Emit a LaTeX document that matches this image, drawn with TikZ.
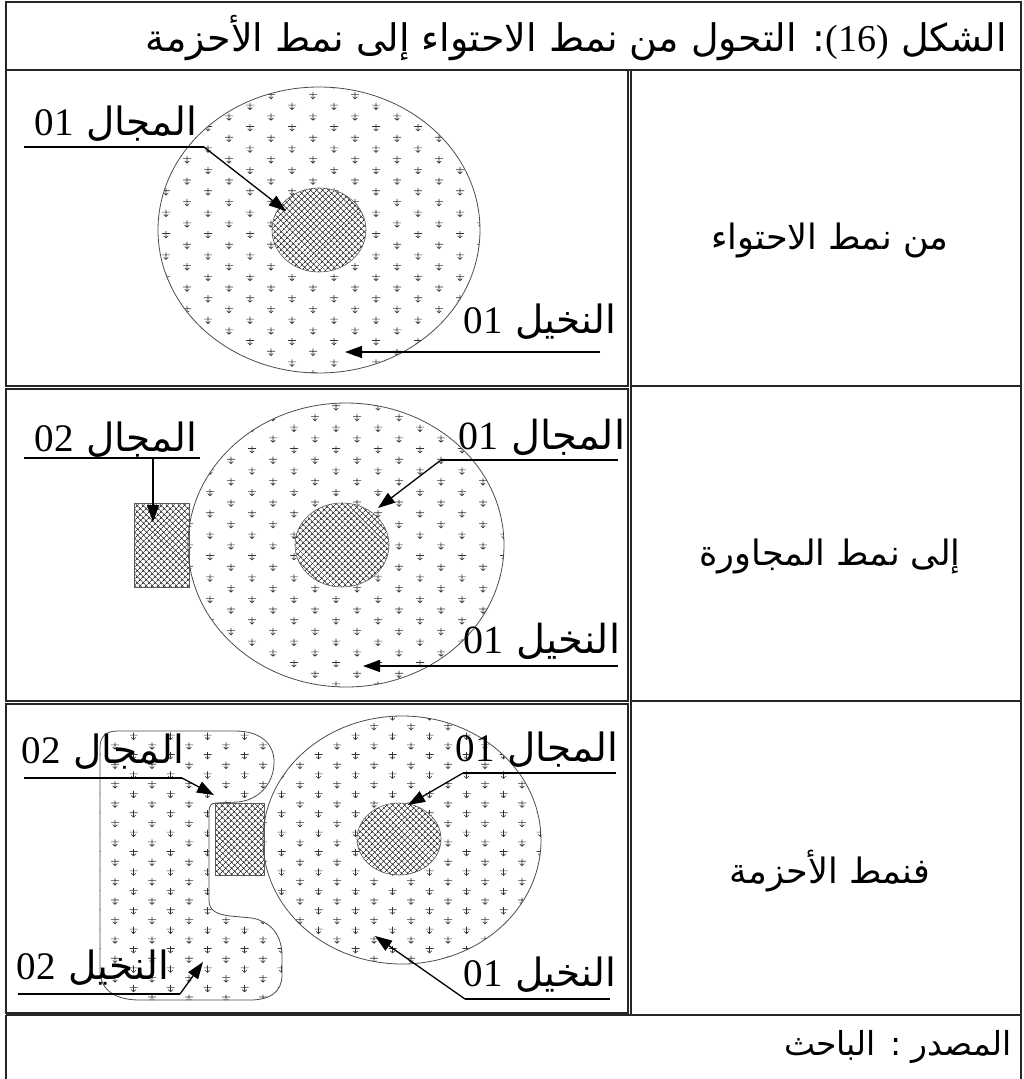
\documentclass[tikz,border=0pt]{standalone}
\usepackage{fontspec}
\usetikzlibrary{arrows.meta,patterns.meta}
\TeXXeTstate=1
\newfontfamily\arabicfont[Script=Arabic]{DejaVu Sans}
\newfontfamily\latinfont{Liberation Serif}
\newcommand{\zonelabel}[2]{{\arabicfont\beginR #1 {\latinfont\beginL #2\endL}\endR}}
\newcommand{\artext}[1]{{\arabicfont\beginR #1\endR}}
% staggered palm marks: x0, y0, columns, rows, dx, dy
\newcommand{\palmfill}[6]{%
  \foreach \j in {0,...,#4}{%
    \pgfmathsetmacro\off{mod(\j,2)*#5/2}
    \foreach \i in {0,...,#3} \pic at ({#1+\off+#5*\i},{#2+#6*\j}) {palm};}}
\tikzset{
  palm/.pic={\draw[line width=0.6pt,black!80] (-4,-1)--(4,-1) (0,-3.5)--(0,3.5) (-2.3,1.3)--(0,3.5)--(2.3,1.3);},
  frame/.style={line width=1.3pt,black!85},
  zone/.style={draw=black!65,line width=0.6pt,preaction={fill=white},
    pattern={Hatch[angle=45,distance=4pt,line width=0.8pt]},pattern color=black!80},
  outline/.style={draw=black!70,line width=0.8pt},
  pointer/.style={line width=1.3pt,-{Triangle[length=17pt,width=12pt]}},
  bar/.style={line width=1.3pt},
  lbl/.style={font=\fontsize{39}{42}\selectfont,inner sep=0pt},
  stage/.style={font=\fontsize{35}{38}\selectfont,inner sep=0pt},
}
\begin{document}
\begin{tikzpicture}[x=1pt,y=-1pt]
\useasboundingbox (0,0) rectangle (1023,1079);
% table
\draw[frame,line width=1.8pt] (6,2) rectangle (1021,70);
\draw[frame] (6,70) rectangle (628,386);
\draw[frame] (6,389) rectangle (628,701);
\draw[frame] (6,704) rectangle (628,1013);
\draw[frame] (631,70) -- (631,1015) (631,386) -- (1021,386) (631,701) -- (1021,701)
  (1021,70) -- (1021,1079) (6,1015) -- (1021,1015) (6,1015) -- (6,1079);
\node[anchor=east,font=\fontsize{38}{40}\selectfont,inner sep=0pt] (title) at (1007,38)
  {\arabicfont\beginR الشكل {\latinfont\beginL(16)\endL}: التحول من نمط الاحتواء إلى نمط الأحزمة\endR};
\node[stage] (stage1) at (830,240) {\artext{من نمط الاحتواء}};
\node[stage] (stage2) at (830,556) {\artext{إلى نمط المجاورة}};
\node[stage] (stage3) at (830,871) {\artext{فنمط الأحزمة}};
\node[anchor=east,font=\fontsize{33}{36}\selectfont,inner sep=0pt] (source) at (1012,1047) {\artext{المصدر : الباحث}};

% row 1: containment
\coordinate (big1) at (319,230);
\begin{scope}
  \clip (big1) ellipse [x radius=161,y radius=143];
  \palmfill{145}{74}{9}{30}{42}{10.7}
\end{scope}
\draw[zone] (319,230) ellipse [x radius=47,y radius=42];
\draw[outline] (big1) ellipse [x radius=161,y radius=143];
\node[lbl] (field1) at (116,124) {\zonelabel{المجال}{01}};
\node[lbl] (palm1) at (540,322) {\zonelabel{النخيل}{01}};
\coordinate (u1a) at (24,147); \coordinate (u1b) at (204,147); \coordinate (t1) at (286,211);
\coordinate (u2a) at (600,352); \coordinate (t2) at (345,352);
\draw[bar] (u1a) -- (u1b);
\draw[pointer] (u1b) -- (t1);
\draw[pointer] (u2a) -- (t2);

% row 2: adjacency
\coordinate (big2) at (346,545);
\begin{scope}
  \clip (big2) ellipse [x radius=158,y radius=142];
  \palmfill{189}{396}{9}{30}{42}{10.7}
\end{scope}
\draw[zone] (342,545) ellipse [x radius=47,y radius=42];
\draw[zone] (134,503) rectangle (189,587);
\draw[outline] (big2) ellipse [x radius=158,y radius=142];
\node[lbl] (field2) at (116,440) {\zonelabel{المجال}{02}};
\node[lbl,font=\fontsize{40}{43}\selectfont] (field3) at (542,437) {\zonelabel{المجال}{01}};
\node[lbl,font=\fontsize{40}{43}\selectfont] (palm2) at (542,641) {\zonelabel{النخيل}{01}};
\coordinate (u3a) at (24,458); \coordinate (u3b) at (200,458); \coordinate (u3c) at (153,458); \coordinate (t3) at (153,522);
\coordinate (u4a) at (618,460); \coordinate (u4b) at (441,460); \coordinate (t4) at (378,508);
\coordinate (u5a) at (618,666); \coordinate (t5) at (363,666);
\draw[bar] (u3a) -- (u3b);
\draw[pointer] (u3c) -- (t3);
\draw[bar] (u4a) -- (u4b);
\draw[pointer] (u4b) -- (t4);
\draw[pointer] (u5a) -- (t5);

% row 3: belts
\coordinate (big3) at (402,840);
\begin{scope}
  \clip (100,748) .. controls (100,736) and (106,731) .. (118,731) -- (235,731)
    .. controls (262,731) and (275,745) .. (274,764) .. controls (273,785) and (258,800) .. (238,802)
    -- (216,803) .. controls (211,803) and (209,806) .. (209,812) -- (209,900)
    .. controls (209,910) and (215,914) .. (230,916) -- (252,918)
    .. controls (272,922) and (282,936) .. (282,956) -- (282,975)
    .. controls (282,992) and (270,1000) .. (250,1000) -- (140,1000)
    .. controls (115,1000) and (100,990) .. (100,970) -- cycle;
  \palmfill{78}{707}{6}{30}{37}{9.7}
\end{scope}
\begin{scope}
  \clip (big3) ellipse [x radius=139,y radius=124];
  \palmfill{78}{707}{13}{30}{37}{9.7}
\end{scope}
\draw[outline] (100,748) .. controls (100,736) and (106,731) .. (118,731) -- (235,731)
    .. controls (262,731) and (275,745) .. (274,764) .. controls (273,785) and (258,800) .. (238,802)
    -- (216,803) .. controls (211,803) and (209,806) .. (209,812) -- (209,900)
    .. controls (209,910) and (215,914) .. (230,916) -- (252,918)
    .. controls (272,922) and (282,936) .. (282,956) -- (282,975)
    .. controls (282,992) and (270,1000) .. (250,1000) -- (140,1000)
    .. controls (115,1000) and (100,990) .. (100,970) -- cycle;
\draw[zone] (399,839) ellipse [x radius=42,y radius=36];
\draw[zone] (215,803) rectangle (264,875);
\draw[outline] (big3) ellipse [x radius=139,y radius=124];
\node[lbl] (field4) at (103,752) {\zonelabel{المجال}{02}};
\node[lbl] (field5) at (537,750) {\zonelabel{المجال}{01}};
\node[lbl] (palm3) at (93,968) {\zonelabel{النخيل}{02}};
\node[lbl] (palm4) at (540,975) {\zonelabel{النخيل}{01}};
\coordinate (u6a) at (24,778); \coordinate (u6b) at (182,778); \coordinate (t6) at (214,795);
\coordinate (u7a) at (616,773); \coordinate (u7b) at (463,773); \coordinate (t7) at (408,805);
\coordinate (u8a) at (18,994); \coordinate (u8b) at (180,994); \coordinate (t8) at (203,962);
\coordinate (u9a) at (610,999); \coordinate (u9b) at (465,999); \coordinate (t9) at (375,936);
\draw[bar] (u6a) -- (u6b);
\draw[pointer] (u6b) -- (t6);
\draw[bar] (u7a) -- (u7b);
\draw[pointer] (u7b) -- (t7);
\draw[bar] (u8a) -- (u8b);
\draw[pointer] (u8b) -- (t8);
\draw[bar] (u9a) -- (u9b);
\draw[pointer] (u9b) -- (t9);
\end{tikzpicture}
\end{document}
